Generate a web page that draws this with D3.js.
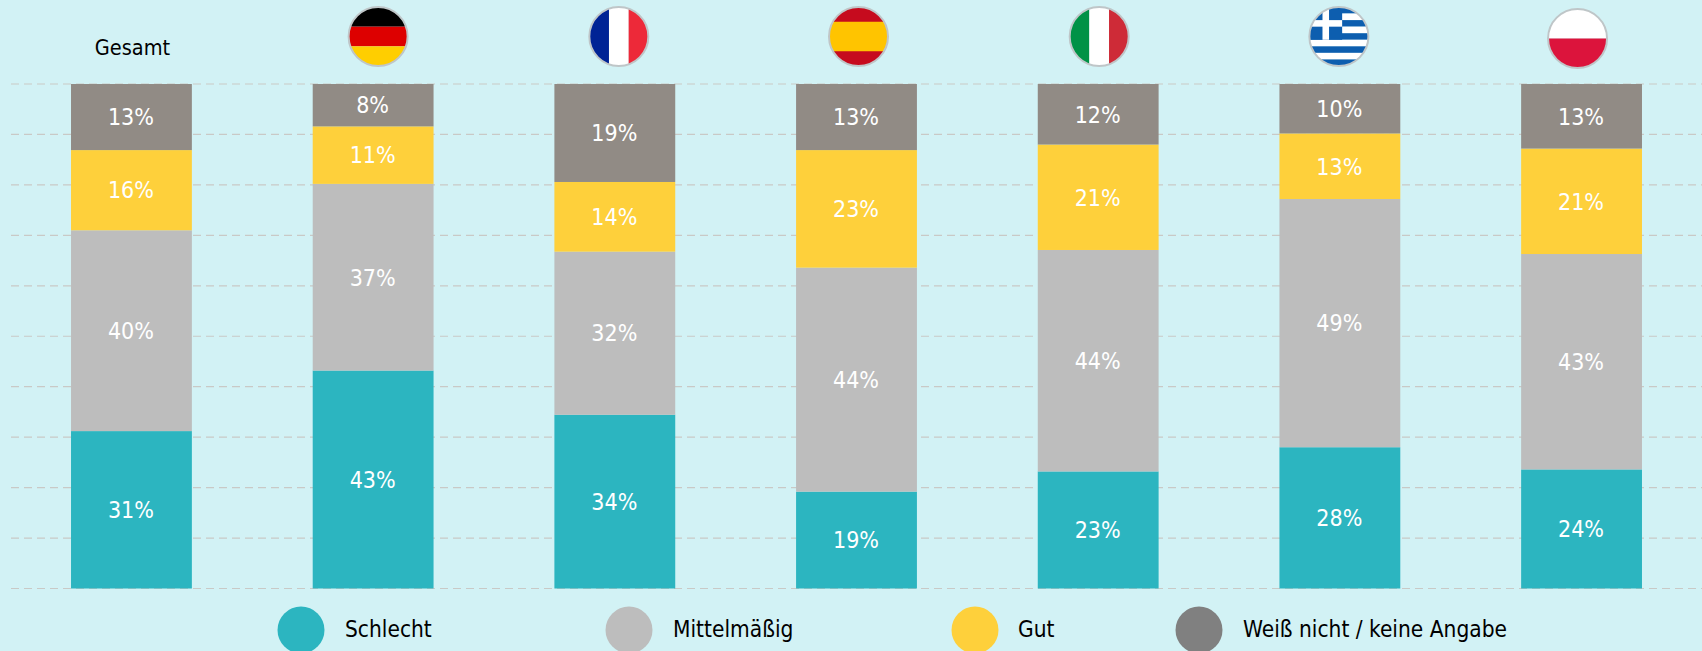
<!DOCTYPE html>
<meta charset="utf-8">
<style>
  html, body { margin: 0; padding: 0; background: #d2f2f5; overflow: hidden; }
  svg { display: block; font-family: "DejaVu Sans Condensed", "DejaVu Sans", sans-serif; font-stretch: condensed; }
  .grid line { stroke: #c9c9c6; stroke-width: 1.2; stroke-dasharray: 8 5; }
  .value { fill: #fff; font-size: 23px; text-anchor: middle; }
  .head { fill: #000; font-size: 21.5px; text-anchor: middle; }
  .legend-label { fill: #000; font-size: 22.5px; }
  .flag-ring { fill: none; stroke: #bfc6c8; stroke-width: 2; }
</style>
<body>
<div id="vis"></div>
<script src="https://cdn.jsdelivr.net/npm/d3@7"></script>
<script>

const width = 1702,
    height = 651;

const countries = ['Gesamt', 'DE', 'FR', 'ES', 'IT', 'GR', 'PL'];
const answers = ['Schlecht', 'Mittelmäßig', 'Gut', 'Weiß nicht / keine Angabe'];
// the printed labels are these rounded
const schlecht = [31.2, 43.2, 34.4, 19.2, 23.2, 28.0, 23.6];
const mittel = [39.8, 37.0, 32.3, 44.4, 43.9, 49.2, 42.7];
const gut = [15.9, 11.4, 13.8, 23.3, 20.9, 13.0, 20.9];
const weissNicht = [13.1, 8.4, 19.4, 13.1, 12.0, 9.8, 12.8];
const gridTicks = [0, 0.1, 0.2, 0.3, 0.4, 0.5, 0.6, 0.7, 0.8, 0.9, 1];

const barColors = ['#2cb5c0', '#bdbdbd', '#fed03b', '#918b85'];
const legendColors = ['#2cb5c0', '#bdbdbd', '#fed03b', '#808080'];
const legendX = [301, 629, 975, 1199];
const legendTextDx = [44, 44, 43, 44];
const flagDx = {DE: 5, FR: 4, ES: 2, IT: 1, GR: -1, PL: -4};

const pct = d3.format('.0f');

const rows = countries.map((c, i) => ({
  country: c,
  [answers[0]]: schlecht[i],
  [answers[1]]: mittel[i],
  [answers[2]]: gut[i],
  [answers[3]]: weissNicht[i]
}));

const series = d3.stack().keys(answers).offset(d3.stackOffsetExpand)(rows);

const x = d3.scaleBand().domain(countries).range([71 - 60.4, 1642 + 60.4]).paddingInner(0.5).paddingOuter(0.25);
const y = d3.scaleLinear().domain([0, 1]).range([588.5, 84]);
const color = d3.scaleOrdinal().domain(answers).range(barColors);

const svg = d3.select('#vis').append('svg')
    .attr('width', width)
    .attr('height', height);

svg.append('g')
    .attr('class', 'grid')
  .selectAll('line')
  .data(gridTicks)
  .enter().append('line')
    .attr('x1', 11)
    .attr('x2', width)
    .attr('y1', d => y(d))
    .attr('y2', d => y(d));

const layer = svg.selectAll('.layer')
  .data(series)
  .enter().append('g')
    .attr('class', 'layer')
    .attr('fill', d => color(d.key));

layer.selectAll('rect')
  .data(d => d)
  .enter().append('rect')
    .attr('x', d => x(d.data.country))
    .attr('width', x.bandwidth())
    .attr('y', d => y(d[1]))
    .attr('height', d => y(d[0]) - y(d[1]));

layer.selectAll('text')
  .data(d => d.map(v => ({v: v, key: d.key})))
  .enter().append('text')
    .attr('class', 'value')
    .attr('x', d => x(d.v.data.country) + x.bandwidth() / 2 - 0.5)
    .attr('y', d => (y(d.v[0]) + y(d.v[1])) / 2)
    .attr('dy', '0.36em')
    .text(d => pct(d.v.data[d.key]) + '%');

svg.append('text')
    .attr('class', 'head')
    .attr('x', x('Gesamt') + x.bandwidth() / 2 + 1)
    .attr('y', 55)
    .text('Gesamt');

// flags, each painted in a box around 0,0 and clipped to a circle
const r = 29.5;
const stripesH = (cols) => (g) => cols.forEach((c, i) => g.append('rect')
    .attr('x', -r).attr('width', 2 * r)
    .attr('y', -r + i * 2 * r / cols.length).attr('height', 2 * r / cols.length)
    .attr('fill', c));
const stripesV = (cols) => (g) => cols.forEach((c, i) => g.append('rect')
    .attr('y', -r).attr('height', 2 * r)
    .attr('x', -r + i * 2 * r / cols.length).attr('width', 2 * r / cols.length)
    .attr('fill', c));

const drawSpain = (g) => {
  stripesH(['#c60b1e'])(g);
  g.append('rect').attr('x', -r).attr('width', 2 * r).attr('y', -r / 2).attr('height', r).attr('fill', '#ffc400');
};

const drawGreece = (g) => {
  const blue = '#0d5eaf';
  const h = 2 * r / 9;
  d3.range(9).forEach(i => g.append('rect')
    .attr('x', -r).attr('width', 2 * r)
    .attr('y', -r + i * h).attr('height', h)
    .attr('fill', i % 2 ? '#fff' : blue));
  g.append('rect').attr('x', -r).attr('y', -r).attr('width', 5 * h).attr('height', 5 * h).attr('fill', blue);
  g.append('rect').attr('x', -r + 2 * h).attr('y', -r).attr('width', h).attr('height', 5 * h).attr('fill', '#fff');
  g.append('rect').attr('x', -r).attr('y', -r + 2 * h).attr('width', 5 * h).attr('height', h).attr('fill', '#fff');
};

const flagDraw = {
  DE: stripesH(['#000', '#dd0000', '#ffce00']),
  FR: stripesV(['#002395', '#fff', '#ed2939']),
  ES: drawSpain,
  IT: stripesV(['#009246', '#fff', '#ce2b37']),
  GR: drawGreece,
  PL: stripesH(['#fff', '#dc143c'])
};

svg.append('defs').append('clipPath')
    .attr('id', 'flag-clip')
  .append('circle')
    .attr('r', r);

const flag = svg.selectAll('.flag')
  .data(countries.slice(1))
  .enter().append('g')
    .attr('class', 'flag')
    .attr('transform', d => 'translate(' + [x(d) + x.bandwidth() / 2 + flagDx[d], d === 'PL' ? 38.5 : 36.5] + ')');

flag.append('g')
    .attr('clip-path', 'url(#flag-clip)')
    .each(function(d) { flagDraw[d](d3.select(this)); });

flag.append('circle')
    .attr('class', 'flag-ring')
    .attr('r', r);

const legend = svg.selectAll('.legend')
  .data(answers)
  .enter().append('g')
    .attr('class', 'legend')
    .attr('transform', (d, i) => 'translate(' + [legendX[i], 630] + ')');

legend.append('circle')
    .attr('r', 23.5)
    .attr('fill', (d, i) => legendColors[i]);

legend.append('text')
    .attr('class', 'legend-label')
    .attr('x', (d, i) => legendTextDx[i])
    .attr('y', 7)
    .text(d => d);

</script>
</body>
